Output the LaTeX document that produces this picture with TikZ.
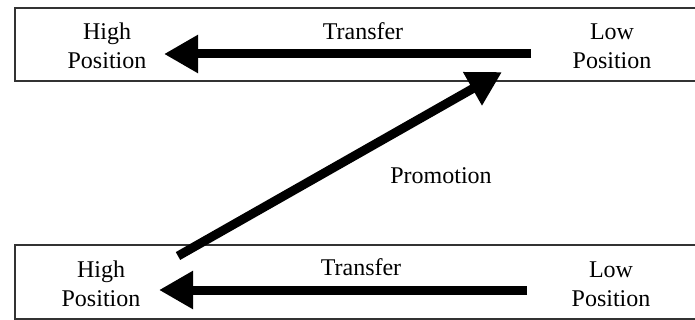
\documentclass[tikz,border=0pt]{standalone}
\usepackage{fontspec}
\setmainfont{Liberation Serif}
\usetikzlibrary{arrows.meta}
\begin{document}
\begin{tikzpicture}[x=1pt,y=-1pt,
  panel/.style={draw=black!80,line width=1.3pt},
  label/.style={font=\fontsize{24}{29.5}\selectfont,inner sep=0pt,align=center},
  bigarrow/.style={line width=9pt,-{Triangle[length=34pt,width=36pt]}}]
\useasboundingbox (0,0) rectangle (695,320);
\clip (0,0) rectangle (695,320);

% two position bands, open to the right
\draw[panel] (15,8) rectangle (712,81);
\draw[panel] (15,245) rectangle (712,319);

% upper band
\node[label] (highA) at (107,46) {High\\Position};
\node[label] (lowA) at (612,46.4) {Low\\Position};
\node[label,anchor=base] (transA) at (363,40) {Transfer};

% lower band
\node[label] (highB) at (101,284) {High\\Position};
\node[label] (lowB) at (611,284.4) {Low\\Position};
\node[label,anchor=base] (transB) at (361,275) {Transfer};

% promotion label
\node[label,anchor=base] (promo) at (441,184) {Promotion};

% arrow end points
\coordinate (tA1) at (531,54);
\coordinate (tA2) at (164,54);
\coordinate (tB1) at (527,290);
\coordinate (tB2) at (159,290);
\coordinate (p1) at (178,256);
\coordinate (p2) at (502,72);

\draw[bigarrow] (tA1) -- (tA2);
\draw[bigarrow] (tB1) -- (tB2);
\draw[bigarrow] (p1) -- (p2);
\end{tikzpicture}
\end{document}
